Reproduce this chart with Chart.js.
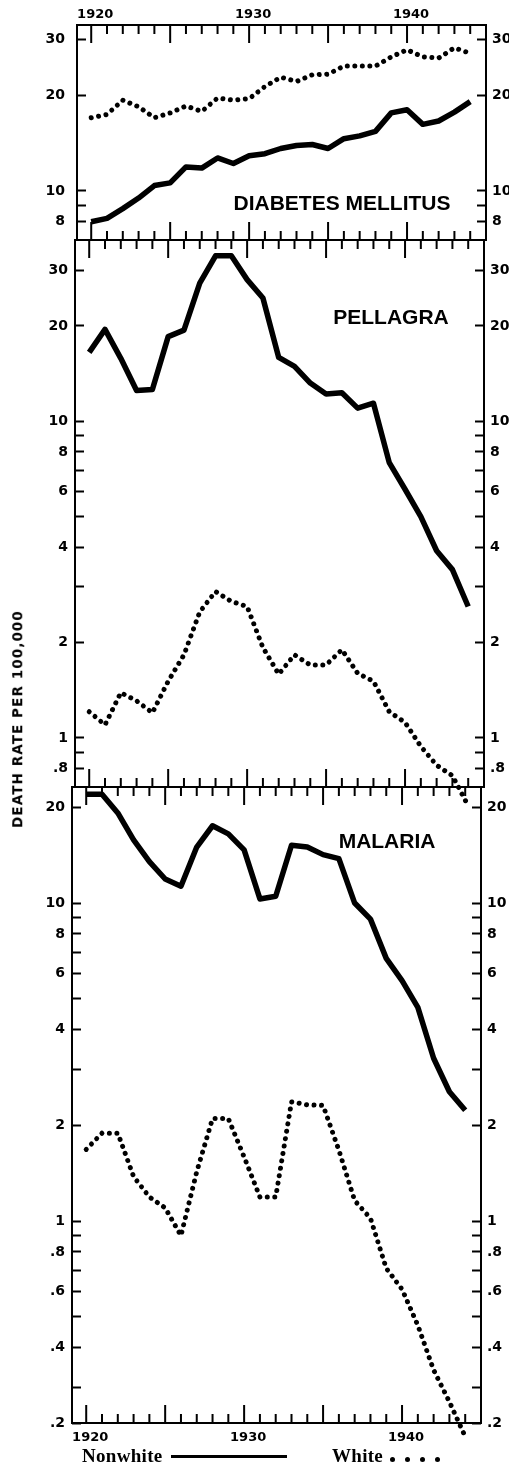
<!DOCTYPE html>
<html>
<head>
<meta charset="utf-8">
<script src="https://cdn.jsdelivr.net/npm/chart.js@4.4.0/dist/chart.umd.min.js"></script>
<style>
  body { margin: 0; background: #fff; }
  #wrap { position: relative; width: 509px; height: 1466px; overflow: hidden; background: #fff; }
  canvas { position: absolute; left: 0; }
  .ytitle { position: absolute; left: 18px; top: 719px; transform: translate(-50%, -50%) rotate(-90deg);
            font: bold 13.5px "DejaVu Sans"; letter-spacing: 1.1px; white-space: nowrap; line-height: 1; }
  .leg { position: absolute; top: 1446px; font: bold 19px "Liberation Serif"; line-height: 19px; white-space: nowrap; letter-spacing: 0.3px; }
  .legline { position: absolute; left: 171px; top: 1455px; width: 116px; height: 3px; background: #000; }
  .dot { position: absolute; top: 1457px; width: 5px; height: 5px; border-radius: 50%; background: #000; }
</style>
</head>
<body>
<div id="wrap">
  <canvas id="diabetes" width="509" height="242" style="top:0px"></canvas>
  <canvas id="malaria" width="509" height="691" style="top:775px"></canvas>
  <canvas id="pellagra" width="509" height="600" style="top:230px"></canvas>
  <div class="ytitle">DEATH RATE PER 100,000</div>
  <div class="leg" style="left:82px">Nonwhite</div>
  <div class="legline"></div>
  <div class="leg" style="left:332px">White</div>
  <div class="dot" style="left:390px"></div>
  <div class="dot" style="left:405px"></div>
  <div class="dot" style="left:420px"></div>
  <div class="dot" style="left:435px"></div>
</div>
<script>
// years and tick labels
var years = [1920, 1921, 1922, 1923, 1924, 1925, 1926, 1927, 1928, 1929, 1930, 1931, 1932,
             1933, 1934, 1935, 1936, 1937, 1938, 1939, 1940, 1941, 1942, 1943, 1944];
var yearLabels = [1920, 1930, 1940];

// death rates per 100,000
var diabetesNonwhite = [8.0, 8.2, 8.8, 9.5, 10.4, 10.6, 11.9, 11.8, 12.7, 12.2, 12.9, 13.1, 13.6,
                        13.9, 14.0, 13.6, 14.6, 14.9, 15.4, 17.6, 18.0, 16.2, 16.6, 17.7, 19.1];
var diabetesWhite = [17.0, 17.4, 19.3, 18.4, 17.0, 17.6, 18.5, 17.8, 19.6, 19.3, 19.5, 21.3, 22.8,
                     22.1, 23.2, 23.3, 24.7, 24.7, 24.7, 26.4, 27.8, 26.4, 26.2, 28.2, 27.1];
var pellagraNonwhite = [16.5, 19.5, 15.8, 12.5, 12.6, 18.5, 19.4, 27.3, 33.3, 33.3, 28.0, 24.5, 15.9,
                        14.9, 13.2, 12.2, 12.3, 11.0, 11.4, 7.4, 6.1, 5.0, 3.9, 3.4, 2.6];
var pellagraWhite = [1.21, 1.10, 1.39, 1.31, 1.20, 1.51, 1.83, 2.50, 2.9, 2.7, 2.6, 1.93, 1.59,
                     1.83, 1.70, 1.70, 1.90, 1.60, 1.51, 1.21, 1.12, 0.94, 0.82, 0.76, 0.61];
var malariaNonwhite = [22.0, 22.0, 19.2, 15.8, 13.5, 11.9, 11.3, 15.0, 17.5, 16.5, 14.7, 10.3, 10.5,
                       15.2, 15.0, 14.2, 13.8, 10.0, 8.9, 6.7, 5.7, 4.7, 3.25, 2.55, 2.23];
var malariaWhite = [1.68, 1.89, 1.89, 1.38, 1.19, 1.10, 0.90, 1.43, 2.10, 2.10, 1.59, 1.19, 1.19,
                    2.37, 2.32, 2.31, 1.67, 1.16, 1.02, 0.71, 0.61, 0.47, 0.34, 0.27, 0.21];

// log axis ticks
var diabetesTicks = [8, 9, 10, 20, 30];
var pellagraTicks = [0.8, 0.9, 1, 2, 3, 4, 5, 6, 7, 8, 9, 10, 20, 30];
var malariaTicks = [0.2, 0.3, 0.4, 0.5, 0.6, 0.7, 0.8, 0.9, 1, 2, 3, 4, 5, 6, 7, 8, 9, 10, 20];
var labeledTicks = [0.2, 0.4, 0.6, 0.8, 1, 2, 4, 6, 8, 10, 20, 30];

var TICK_IN = 9;

function yLabel(value) {
    var r = Math.round(value * 10) / 10;
    if (labeledTicks.indexOf(r) < 0) return '';
    return r < 1 ? String(r).slice(1) : String(r);
}

// frame, year ticks and the panel caption
var panelDecor = {
    id: 'panelDecor',
    afterDraw: function (chart, args, o) {
        var ctx = chart.ctx, a = chart.chartArea;
        var x = chart.scales.x, y = chart.scales.y;
        ctx.save();
        ctx.strokeStyle = '#000';
        ctx.lineWidth = 2;
        ctx.strokeRect(a.left, a.top, a.right - a.left, a.bottom - a.top);
        ctx.beginPath();
        years.forEach(function (yr) {
            var px = x.getPixelForValue(yr);
            var len = yr % 5 === 0 ? 18 : 9;
            ctx.moveTo(px, a.top); ctx.lineTo(px, a.top + len);
            ctx.moveTo(px, a.bottom); ctx.lineTo(px, a.bottom - len);
        });
        ctx.stroke();
        ctx.fillStyle = '#000';
        ctx.font = 'bold 21px "Liberation Sans"';
        ctx.textAlign = 'center';
        ctx.textBaseline = 'alphabetic';
        ctx.fillText(o.text, x.getPixelForValue(o.at[0]), y.getPixelForValue(o.at[1]));
        ctx.restore();
    }
};

function makeChart(id, p) {
    var canvas = document.getElementById(id);
    var W = canvas.width;

    function yAxis(pos) {
        return {
            type: 'logarithmic', position: pos, min: p.yMin, max: p.yMax,
            afterBuildTicks: function (s) {
                s.ticks = p.yTicks.map(function (v) { return { value: Math.max(v, p.yMin) }; });
            },
            afterFit: function (s) {
                s.width = pos === 'left' ? p.left : W - p.right;
                s.paddingTop = 0; s.paddingBottom = 0;
            },
            grid: { drawOnChartArea: false, drawTicks: true, tickLength: -TICK_IN, tickWidth: 2, tickColor: '#000', color: '#000' },
            border: { display: false },
            ticks: {
                autoSkip: false, color: '#000',
                padding: (pos === 'left' ? p.gapL : p.gapR) + TICK_IN,
                font: { family: 'DejaVu Sans', weight: 'bold', size: 14 },
                callback: yLabel
            }
        };
    }

    return new Chart(canvas.getContext('2d'), {
        type: 'line',
        data: {
            datasets: [{
                label: 'Nonwhite',
                data: years.map(function (yr, i) { return { x: yr, y: p.nonwhite[i] }; }),
                borderColor: '#000', borderWidth: 5.5, borderJoinStyle: 'round',
                pointRadius: 0, tension: 0, clip: false
            }, {
                label: 'White',
                data: years.map(function (yr, i) { return { x: yr, y: p.white[i] }; }),
                borderColor: '#000', borderWidth: 5, borderDash: [0.01, 7.5], borderCapStyle: 'round',
                pointRadius: 0, tension: 0, clip: false
            }]
        },
        options: {
            responsive: false,
            animation: false,
            devicePixelRatio: 1,
            layout: { padding: { top: p.padTop, bottom: p.padBottom, left: 0, right: 0 } },
            scales: {
                x: {
                    type: 'linear', min: 1919.1, max: 1945.0,
                    display: !!p.xPos, position: p.xPos || 'bottom',
                    afterBuildTicks: function (s) {
                        s.ticks = yearLabels.map(function (v) { return { value: v }; });
                    },
                    afterFit: function (s) {
                        if (p.xPos) s.height = p.xHeight;
                        s.paddingLeft = 0; s.paddingRight = 0;
                    },
                    grid: { display: false, drawTicks: false },
                    border: { display: false },
                    ticks: {
                        autoSkip: false, maxRotation: 0, color: '#000',
                        padding: p.xPad, labelOffset: 4,
                        font: { family: 'DejaVu Sans', weight: 'bold', size: 13 },
                        callback: function (v) { return String(v); }
                    }
                },
                y: yAxis('left'),
                y2: yAxis('right')
            },
            plugins: {
                legend: { display: false },
                tooltip: { enabled: false },
                panelDecor: { text: p.title, at: p.titleAt }
            }
        },
        plugins: [panelDecor]
    });
}

makeChart('diabetes', {
    left: 77, right: 486, padTop: 0, padBottom: 2,
    xPos: 'top', xHeight: 25, xPad: 3,
    yMin: 7.01, yMax: 33.27, yTicks: diabetesTicks, gapL: 12, gapR: 6,
    nonwhite: diabetesNonwhite, white: diabetesWhite,
    title: 'DIABETES MELLITUS', titleAt: [1935.88, 8.72]
});

makeChart('pellagra', {
    left: 75, right: 484, padTop: 10, padBottom: 43,
    xPos: null,
    yMin: 0.7115, yMax: 37.35, yTicks: pellagraTicks, gapL: 7, gapR: 6,
    nonwhite: pellagraNonwhite, white: pellagraWhite,
    title: 'PELLAGRA', titleAt: [1939.11, 20.33]
});

makeChart('malaria', {
    left: 72, right: 481, padTop: 12, padBottom: 0,
    xPos: 'bottom', xHeight: 43, xPad: 7,
    yMin: 0.2317, yMax: 23.17, yTicks: malariaTicks, gapL: 7, gapR: 6,
    nonwhite: malariaNonwhite, white: malariaWhite,
    title: 'MALARIA', titleAt: [1939.05, 14.89]
});
</script>
</body>
</html>
